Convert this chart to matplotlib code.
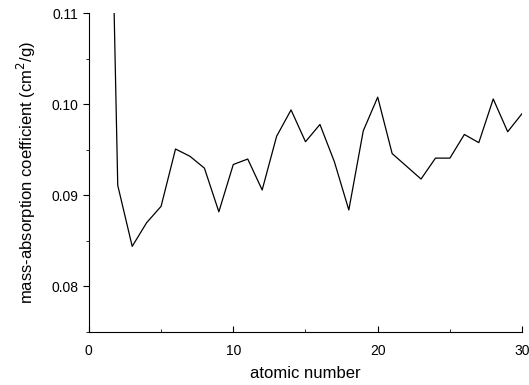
import matplotlib
matplotlib.use("Agg")
import matplotlib.pyplot as plt
from matplotlib.ticker import MultipleLocator, FormatStrFormatter

plt.rcParams['font.family'] = ['Liberation Sans', 'DejaVu Sans']

atomic_number = list(range(1, 31))
mass_absorption = [0.167, 0.0911, 0.0844, 0.0870, 0.0888, 0.0951, 0.0943, 0.0930,
                   0.0882, 0.0934, 0.0940, 0.0906, 0.0965, 0.0994, 0.0959, 0.0978,
                   0.0937, 0.0884, 0.0971, 0.1008, 0.0946, 0.0932, 0.0918, 0.0941,
                   0.0941, 0.0967, 0.0958, 0.1006, 0.0970, 0.0990]

fig = plt.figure(figsize=(5.29, 3.85), dpi=100)
ax = fig.add_axes([0.168, 0.138, 0.819, 0.827])
ax.plot(atomic_number, mass_absorption, color='black', linewidth=0.9)
ax.set_xlim(0, 30)
ax.set_ylim(0.075, 0.11)
ax.xaxis.set_major_locator(MultipleLocator(10))
ax.xaxis.set_minor_locator(MultipleLocator(5))
ax.yaxis.set_major_locator(MultipleLocator(0.01))
ax.yaxis.set_minor_locator(MultipleLocator(0.005))
ax.yaxis.set_major_formatter(FormatStrFormatter('%.2f'))
ax.spines['top'].set_visible(False)
ax.spines['right'].set_visible(False)
ax.tick_params(axis='x', which='both', direction='in', labelsize=10, pad=8.5)
ax.tick_params(axis='x', which='major', length=4.5)
ax.tick_params(axis='x', which='minor', length=2.5)
ax.tick_params(axis='y', which='both', direction='out', labelsize=10, pad=3)
ax.tick_params(axis='y', which='major', length=4.5)
ax.tick_params(axis='y', which='minor', length=2.5)
ax.set_xlabel('atomic number', fontsize=12, labelpad=6)
ax.set_ylabel('mass-absorption coefficient (cm$^2$/g)', fontsize=12)
ax.yaxis.set_label_coords(-0.118, 0.5)
fig.savefig('out.png', dpi=100)
